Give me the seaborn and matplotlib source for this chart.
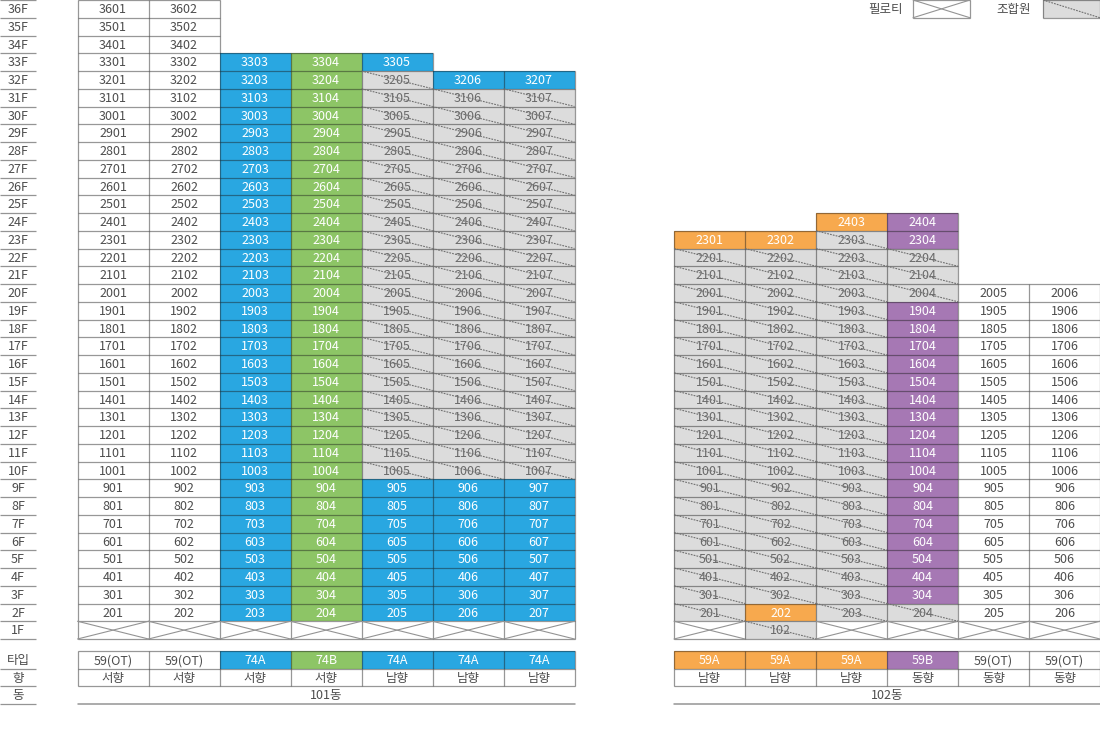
import numpy as np
import matplotlib
matplotlib.use("Agg")
import matplotlib.pyplot as plt
from matplotlib.collections import LineCollection
from matplotlib.colors import ListedColormap
import seaborn as sns

sns.set_theme(style="white")
plt.rcParams['font.family'] = ['Noto Sans CJK KR', 'DejaVu Sans']

# kinds of cell
KINDS = ["open", "blue", "green", "orange", "purple", "member", "piloti"]
KIND_COLORS = ["#ffffff", "#29a7e1", "#8dc566", "#f7a94e", "#a678b4", "#dcdcdc", "#ffffff"]

FLOORS = list(range(36, 0, -1))

# every column: (top floor, bottom floor, kind)
B101_COLUMNS = [
    [(36, 2, "open"), (1, 1, "piloti")],
    [(36, 2, "open"), (1, 1, "piloti")],
    [(33, 2, "blue"), (1, 1, "piloti")],
    [(33, 2, "green"), (1, 1, "piloti")],
    [(33, 33, "blue"), (32, 10, "member"), (9, 2, "blue"), (1, 1, "piloti")],
    [(32, 32, "blue"), (31, 10, "member"), (9, 2, "blue"), (1, 1, "piloti")],
    [(32, 32, "blue"), (31, 10, "member"), (9, 2, "blue"), (1, 1, "piloti")],
]
B102_COLUMNS = [
    [(23, 23, "orange"), (22, 2, "member"), (1, 1, "piloti")],
    [(23, 23, "orange"), (22, 3, "member"), (2, 2, "orange"), (1, 1, "member")],
    [(24, 24, "orange"), (23, 2, "member"), (1, 1, "piloti")],
    [(24, 23, "purple"), (22, 20, "member"), (19, 3, "purple"), (2, 2, "member"), (1, 1, "piloti")],
    [(20, 2, "open"), (1, 1, "piloti")],
    [(20, 2, "open"), (1, 1, "piloti")],
]
B101_TYPES = ["59(OT)", "59(OT)", "74A", "74B", "74A", "74A", "74A"]
B101_TYPE_KINDS = ["open", "open", "blue", "green", "blue", "blue", "blue"]
B101_DIRS = ["서향", "서향", "서향", "서향", "남향", "남향", "남향"]
B102_TYPES = ["59A", "59A", "59A", "59B", "59(OT)", "59(OT)"]
B102_TYPE_KINDS = ["orange", "orange", "orange", "purple", "open", "open"]
B102_DIRS = ["남향", "남향", "남향", "동향", "동향", "동향"]
INFO_LABELS = ["타입", "향", "동"]
BUILDING_NAMES = ["101동", "102동"]
LEGEND_LABELS = ["필로티", "조합원"]

W, H = 1100, 750
CELL_W, CELL_H = 71, 17.75
LINE = "#949494"
GRID_RGBA = (0.1, 0.1, 0.1, 0.45)
LW = 0.9
FS = 9
TEXT = "#4d4d4d"
TEXT_MID = 0.46  # row fraction of the text centre
cmap = ListedColormap(KIND_COLORS)

fig = plt.figure(figsize=(W / 100, H / 100), dpi=100)


def px_axes(x0, y0, x1, y1):
    ax = fig.add_axes([x0 / W, 1 - y1 / H, (x1 - x0) / W, (y1 - y0) / H])
    return ax


def heat(ax, codes):
    mask = np.isnan(codes)
    sns.heatmap(codes, mask=mask, cmap=cmap, vmin=-0.5, vmax=6.5, cbar=False,
                linewidths=0, xticklabels=False, yticklabels=False, ax=ax)
    ax.patch.set_alpha(0)
    # one outline per distinct cell edge, so that open cells keep no border
    edges = set()
    rows, cols = codes.shape
    for r in range(rows):
        for c in range(cols):
            if mask[r, c]:
                continue
            edges.add(((c, r), (c + 1, r)))
            edges.add(((c, r + 1), (c + 1, r + 1)))
            edges.add(((c, r), (c, r + 1)))
            edges.add(((c + 1, r), (c + 1, r + 1)))
    lc = LineCollection(sorted(edges), colors=[GRID_RGBA], linewidths=LW, zorder=3, clip_on=False,
                        capstyle="butt")
    ax.add_collection(lc)


def label(ax, x, y, s, color=TEXT, size=FS):
    ax.text(x, y, s, ha="center", va="center_baseline", fontsize=size, color=color, zorder=6,
            fontweight=300)


def cross(ax, c, r):
    ax.plot([c, c + 1], [r, r + 1], color=LINE, lw=0.8, clip_on=False, zorder=4)
    ax.plot([c, c + 1], [r + 1, r], color=LINE, lw=0.8, clip_on=False, zorder=4)


def slash(ax, c, r):
    ax.plot([c, c + 1], [r, r + 1], color="#707070", lw=0.8, ls=(0, (1.6, 1.0)),
            clip_on=False, zorder=7)


def building(columns, types, type_kinds, dirs, name, x0):
    n = len(columns)
    x1 = x0 + n * CELL_W
    ax = px_axes(x0, 0, x1, len(FLOORS) * CELL_H)
    codes = np.full((len(FLOORS), n), np.nan)
    for c, runs in enumerate(columns):
        for top, bottom, kind in runs:
            for f in range(top, bottom - 1, -1):
                codes[FLOORS.index(f), c] = KINDS.index(kind)
    heat(ax, codes)
    for r, f in enumerate(FLOORS):
        for c in range(n):
            if np.isnan(codes[r, c]):
                continue
            kind = KINDS[int(codes[r, c])]
            if kind == "piloti":
                cross(ax, c, r)
                continue
            unit = f"{f * 100 + c + 1}"
            if kind == "open":
                label(ax, c + 0.5, r + TEXT_MID, unit)
            elif kind == "member":
                label(ax, c + 0.5, r + TEXT_MID, unit, color="#6a6a6a")
                slash(ax, c, r)
            else:
                label(ax, c + 0.5, r + TEXT_MID, unit, color="white")

    # information rows below the floors
    ay = px_axes(x0, 651, x1, 651 + 3 * 17.65)
    info = np.full((3, n), np.nan)
    info[0] = [KINDS.index(k) for k in type_kinds]
    info[1] = KINDS.index("open")
    heat(ay, info)
    for c in range(n):
        col = TEXT if type_kinds[c] == "open" else "white"
        label(ay, c + 0.5, TEXT_MID, types[c], color=col)
        label(ay, c + 0.5, 1 + TEXT_MID, dirs[c])
    label(ay, n / 2, 2 + TEXT_MID, name)
    ay.plot([0, n], [3, 3], color=LINE, lw=1.1, clip_on=False)


building(B101_COLUMNS, B101_TYPES, B101_TYPE_KINDS, B101_DIRS, BUILDING_NAMES[0], 77.5)
building(B102_COLUMNS, B102_TYPES, B102_TYPE_KINDS, B102_DIRS, BUILDING_NAMES[1], 674)

# floor label column
af = px_axes(0, 0, 36, len(FLOORS) * CELL_H)
af.set_xlim(0, 1)
af.set_ylim(len(FLOORS), 0)
af.axis("off")
af.hlines(range(len(FLOORS) + 1), 0, 1, color=LINE, lw=LW, clip_on=False)
for r, f in enumerate(FLOORS):
    label(af, 0.5, r + TEXT_MID, f"{f}F")

ag = px_axes(0, 651, 36, 651 + 3 * 17.65)
ag.set_xlim(0, 1)
ag.set_ylim(3, 0)
ag.axis("off")
ag.hlines([1, 2, 3], 0, 1, color=LINE, lw=LW, clip_on=False)
for r, s in enumerate(INFO_LABELS):
    label(ag, 0.5, r + TEXT_MID, s)

# legend
l1 = px_axes(913, 0, 970, CELL_H)
heat(l1, np.array([[KINDS.index("piloti")]], dtype=float))
cross(l1, 0, 0)
l2 = px_axes(1043, 0, 1100, CELL_H)
heat(l2, np.array([[KINDS.index("member")]], dtype=float))
slash(l2, 0, 0)
fig.text(885 / W, 1 - 9 / H, LEGEND_LABELS[0], ha="center", va="center", fontsize=FS, color=TEXT)
fig.text(1014 / W, 1 - 9 / H, LEGEND_LABELS[1], ha="center", va="center", fontsize=FS, color=TEXT)

fig.savefig("out.png", dpi=100)
